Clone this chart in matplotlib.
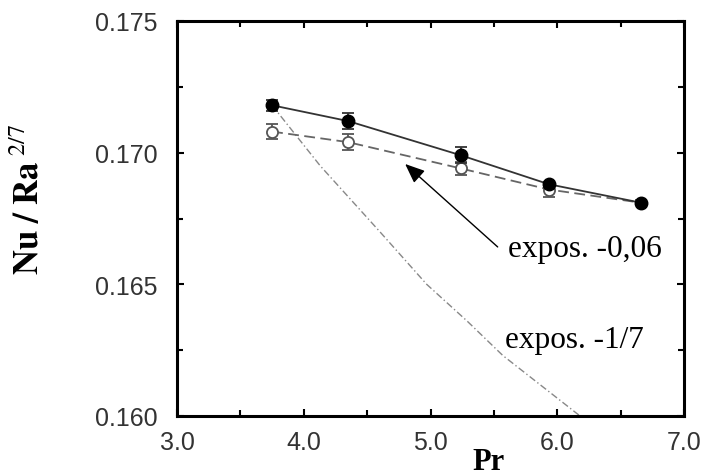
import matplotlib
matplotlib.use("Agg")
import matplotlib.pyplot as plt
from matplotlib.ticker import MultipleLocator
from matplotlib.transforms import ScaledTranslation

# data
pr = [3.75, 4.35, 5.24, 5.935, 6.66]
nu_filled = [0.1718, 0.1712, 0.1699, 0.1688, 0.1681]
err_filled = [0.0002, 0.0003, 0.0003, 0.0001, 0.0]
nu_open = [0.1708, 0.1704, 0.1694, 0.1686, 0.1681]
err_open = [0.0003, 0.0003, 0.00025, 0.0003, 0.0001]

# "expos. -1/7" curve, read at several points
pr_m17 = [3.75, 4.13, 4.60, 4.97, 5.29, 5.57, 6.18, 6.25]
nu_m17 = [0.1718, 0.1695, 0.1670, 0.1650, 0.1636, 0.1623, 0.1600, 0.1598]

plt.rcParams['mathtext.fontset'] = 'stix'

fig = plt.figure(figsize=(7.06, 4.77), dpi=100)
ax = fig.add_axes([177 / 706, 1 - 417 / 477, 507 / 706, 395 / 477])

# fit curves
ax.plot(pr_m17, nu_m17, color='#888888', lw=1.0, dashes=(5, 2, 1, 2))
ax.plot(pr, nu_open, color='#666666', lw=1.3, dashes=(6, 3))
ax.plot(pr, nu_filled, color='#333333', lw=1.3)

# data points
ax.errorbar(pr, nu_open, yerr=err_open, fmt='o', ms=8, mfc='white',
            mec='#555555', mew=1.3, ecolor='#555555', elinewidth=1.3,
            capsize=4, capthick=1.3, zorder=4)
ax.errorbar(pr, nu_filled, yerr=err_filled, fmt='o', ms=9, color='black',
            ecolor='#333333', elinewidth=1.3, capsize=4, capthick=1.3, zorder=5)

ax.set_xlim(3.0, 7.0)
ax.set_ylim(0.160, 0.175)
ax.xaxis.set_major_locator(MultipleLocator(1.0))
ax.xaxis.set_minor_locator(MultipleLocator(0.5))
ax.yaxis.set_major_locator(MultipleLocator(0.005))
ax.yaxis.set_minor_locator(MultipleLocator(0.0025))
ax.xaxis.set_major_formatter(plt.FormatStrFormatter('%.1f'))
ax.yaxis.set_major_formatter(plt.FormatStrFormatter('%.3f'))

for s in ax.spines.values():
    s.set_linewidth(2.2)
ax.tick_params(which='both', direction='in', top=True, right=True,
               width=1.5, color='black')
ax.tick_params(which='major', length=5)
ax.tick_params(which='minor', length=4)
ax.tick_params(axis='x', pad=10)
ax.tick_params(axis='y', pad=14)
for lbl in ax.get_xticklabels() + ax.get_yticklabels():
    lbl.set_fontfamily('Liberation Sans')
    lbl.set_fontsize(18)
    lbl.set_color('#333333')

# gnuplot-style corner labels sit a bit higher
ax.get_yticklabels()[0].set_transform(
    ax.get_yticklabels()[0].get_transform() + ScaledTranslation(0, 8 / 100, fig.dpi_scale_trans))
ax.get_xticklabels()[0].set_transform(
    ax.get_xticklabels()[0].get_transform() + ScaledTranslation(0, 7 / 100, fig.dpi_scale_trans))

ax.set_xlabel('Pr', fontfamily='Liberation Serif', fontweight='bold', fontsize=22)
ax.xaxis.label.set_va('baseline')
ax.xaxis.set_label_coords(0.615, -0.134)

ax.set_ylabel(r'$\mathbf{Nu\ /\ Ra}^{\ 2/7}$', fontsize=25)
ax.yaxis.set_label_coords(-0.258, 0.55)

# annotations
ax.annotate('', xy=(4.80, 0.16957), xytext=(5.53, 0.16642),
            arrowprops=dict(arrowstyle='-|>,head_length=0.6,head_width=0.25',
                            color='black', lw=1.0, mutation_scale=20,
                            shrinkA=0, shrinkB=0))
ax.text(5.61, 0.16608, 'expos. -0,06', fontfamily='Liberation Serif',
        fontsize=22.5, va='baseline', ha='left')
ax.text(5.59, 0.16262, 'expos. -1/7', fontfamily='Liberation Serif',
        fontsize=22.5, va='baseline', ha='left')

fig.savefig('out.png', dpi=100)
